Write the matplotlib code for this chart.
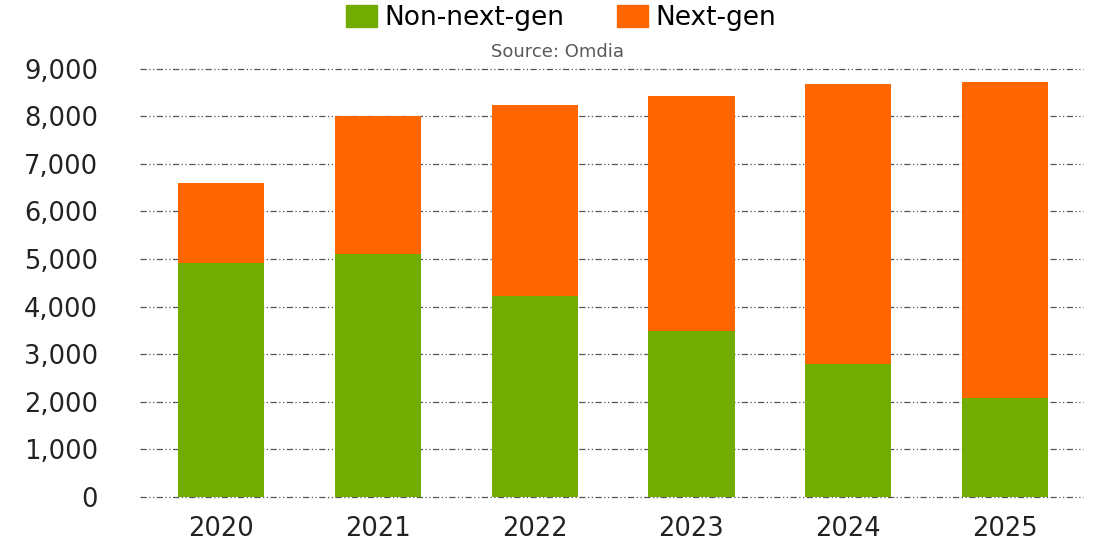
import matplotlib
matplotlib.use("Agg")
import matplotlib.pyplot as plt
from matplotlib.patches import Patch
import numpy as np

years = ["2020", "2021", "2022", "2023", "2024", "2025"]
non_next_gen = [4920, 5110, 4230, 3490, 2800, 2080]
totals = [6600, 8010, 8240, 8430, 8680, 8730]
next_gen = [t - n for t, n in zip(totals, non_next_gen)]
yticks = [0, 1000, 2000, 3000, 4000, 5000, 6000, 7000, 8000, 9000]

green = "#70AD00"
orange = "#FF6600"

fig = plt.figure(figsize=(10.93, 5.47), dpi=100)
ax = fig.add_axes([0.128, 0.0914, 0.863, 0.783])

x = np.arange(len(years))
ax.bar(x, non_next_gen, width=0.55, color=green, zorder=3)
ax.bar(x, next_gen, bottom=non_next_gen, width=0.55, color=orange, zorder=3)

ax.set_xlim(-0.52, 5.5)
ax.set_ylim(0, 9000)
ax.set_yticks(yticks)
ax.set_yticklabels([f"{v:,}" for v in yticks])
ax.set_xticks(x)
ax.set_xticklabels(years)
ax.yaxis.grid(True, color="#555555", linestyle=(0, (5, 2, 1, 2, 1, 2)), linewidth=0.9, zorder=0)
for gl in ax.get_ygridlines():
    gl.set_clip_on(False)
for s in ax.spines.values():
    s.set_visible(False)
ax.tick_params(axis="both", length=0, labelsize=18.5, colors="#222222")
ax.tick_params(axis="y", pad=30)
ax.tick_params(axis="x", pad=14)

handles = [Patch(color=green), Patch(color=orange)]
fig.legend(handles, ["Non-next-gen", "Next-gen"], loc="center", bbox_to_anchor=(0.513, 0.967),
           ncol=2, frameon=False, fontsize=19, handlelength=1.2, handleheight=0.9,
           handletextpad=0.25, columnspacing=2.0)
fig.text(0.51, 0.905, "Source: Omdia", ha="center", va="center", fontsize=13, color="#595959")

fig.savefig("out.png", dpi=100)
